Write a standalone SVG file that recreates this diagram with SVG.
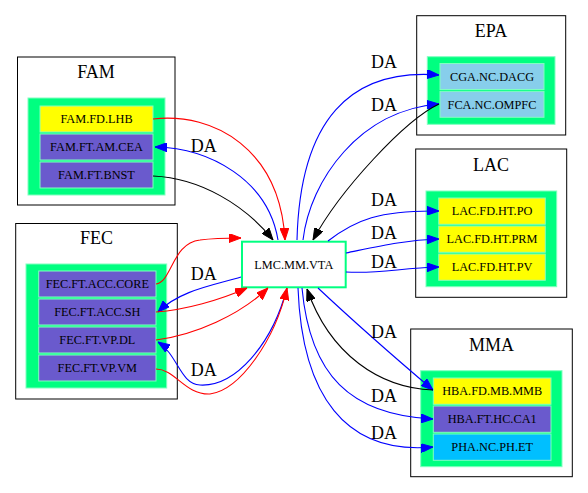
<svg xmlns="http://www.w3.org/2000/svg" width="588" height="493" viewBox="0 0 588 493">
<style>
.clu{fill:#fff;stroke:#000;stroke-width:1}
.tbl{fill:#00ff80;stroke:#80ffc0;stroke-width:1}
.cell{stroke:#80ffc0;stroke-width:1}
.y{fill:#ffff00}.s{fill:#6a5acd}.k{fill:#87ceeb}.d{fill:#00bfff}
.t{font-size:18px;fill:#000;text-anchor:middle}
.n{font-size:12.3px;fill:#000;text-anchor:middle}
.e{fill:none;stroke-width:1.1}
.r{stroke:#ff0000}.b{stroke:#0000ff}.bk{stroke:#000}
</style>
<defs>
<marker id="ar" viewBox="0 0 12 9" refX="12" refY="4.5" markerWidth="12" markerHeight="9" markerUnits="userSpaceOnUse" orient="auto"><path d="M0,0L12,4.5L0,9z" fill="#ff0000" stroke="#ff0000"/></marker>
<marker id="ab" viewBox="0 0 12 9" refX="12" refY="4.5" markerWidth="12" markerHeight="9" markerUnits="userSpaceOnUse" orient="auto"><path d="M0,0L12,4.5L0,9z" fill="#0000ff" stroke="#0000ff"/></marker>
<marker id="ak" viewBox="0 0 12 9" refX="12" refY="4.5" markerWidth="12" markerHeight="9" markerUnits="userSpaceOnUse" orient="auto"><path d="M0,0L12,4.5L0,9z" fill="#000" stroke="#000"/></marker>
</defs>
<rect width="588" height="493" fill="#fff"/>
<g font-family="Liberation Serif, Times New Roman, serif">

<g id="cluster_FAM">
<rect class="clu" x="17.5" y="57" width="157.5" height="148"/>
<text class="t" x="96" y="78.3">FAM</text>
<rect class="tbl" x="28" y="98" width="137" height="97"/>
<g id="FAM.FD.LHB"><rect class="cell y" x="40" y="106" width="113" height="26"/><text class="n" x="96.5" y="123.2">FAM.FD.LHB</text></g>
<g id="FAM.FT.AM.CEA"><rect class="cell s" x="40" y="134" width="113" height="26"/><text class="n" x="96.5" y="151.2">FAM.FT.AM.CEA</text></g>
<g id="FAM.FT.BNST"><rect class="cell s" x="40" y="162" width="113" height="26"/><text class="n" x="96.5" y="179.2">FAM.FT.BNST</text></g>
</g>

<g id="cluster_FEC">
<rect class="clu" x="15.7" y="223.5" width="161.6" height="175.5"/>
<text class="t" x="96.5" y="244">FEC</text>
<rect class="tbl" x="26" y="264" width="140.7" height="124"/>
<g id="FEC.FT.ACC.CORE"><rect class="cell s" x="38.7" y="271" width="117.3" height="26"/><text class="n" x="97.3" y="288.2">FEC.FT.ACC.CORE</text></g>
<g id="FEC.FT.ACC.SH"><rect class="cell s" x="38.7" y="299" width="117.3" height="26"/><text class="n" x="97.3" y="316.2">FEC.FT.ACC.SH</text></g>
<g id="FEC.FT.VP.DL"><rect class="cell s" x="38.7" y="327" width="117.3" height="26"/><text class="n" x="97.3" y="344.2">FEC.FT.VP.DL</text></g>
<g id="FEC.FT.VP.VM"><rect class="cell s" x="38.7" y="355" width="117.3" height="26"/><text class="n" x="97.3" y="372.2">FEC.FT.VP.VM</text></g>
</g>

<g id="cluster_EPA">
<rect class="clu" x="416.7" y="15.7" width="149" height="119.3"/>
<text class="t" x="491" y="36.7">EPA</text>
<rect class="tbl" x="427.3" y="56.7" width="127.7" height="67.6"/>
<g id="CGA.NC.DACG"><rect class="cell k" x="440" y="63.5" width="104" height="26"/><text class="n" x="492" y="80.7">CGA.NC.DACG</text></g>
<g id="FCA.NC.OMPFC"><rect class="cell k" x="440" y="91.3" width="104" height="26"/><text class="n" x="492" y="108.5">FCA.NC.OMPFC</text></g>
</g>

<g id="cluster_LAC">
<rect class="clu" x="415.7" y="149" width="151" height="148.3"/>
<text class="t" x="491" y="170.7">LAC</text>
<rect class="tbl" x="426" y="191" width="130.7" height="95.7"/>
<g id="LAC.FD.HT.PO"><rect class="cell y" x="438.7" y="198" width="106.6" height="26.3"/><text class="n" x="492" y="215.3">LAC.FD.HT.PO</text></g>
<g id="LAC.FD.HT.PRM"><rect class="cell y" x="438.7" y="226" width="106.6" height="26.3"/><text class="n" x="492" y="243.3">LAC.FD.HT.PRM</text></g>
<g id="LAC.FD.HT.PV"><rect class="cell y" x="438.7" y="254" width="106.6" height="26.3"/><text class="n" x="492" y="271.3">LAC.FD.HT.PV</text></g>
</g>

<g id="cluster_MMA">
<rect class="clu" x="410.7" y="329" width="161.6" height="147.7"/>
<text class="t" x="491.5" y="350.7">MMA</text>
<rect class="tbl" x="420.7" y="370.7" width="141.3" height="96"/>
<g id="HBA.FD.MB.MMB"><rect class="cell y" x="433.3" y="378" width="117.7" height="26.3"/><text class="n" x="492.2" y="395.3">HBA.FD.MB.MMB</text></g>
<g id="HBA.FT.HC.CA1"><rect class="cell s" x="433.3" y="406" width="117.7" height="26.3"/><text class="n" x="492.2" y="423.3">HBA.FT.HC.CA1</text></g>
<g id="PHA.NC.PH.ET"><rect class="cell d" x="433.3" y="434" width="117.7" height="26.3"/><text class="n" x="492.2" y="451.3">PHA.NC.PH.ET</text></g>
</g>

<g id="LMC.MM.VTA">
<rect x="242" y="241.7" width="103.7" height="45.6" fill="#fff" stroke="#00ff80" stroke-width="2"/>
<text class="n" x="293.8" y="268.6">LMC.MM.VTA</text>
</g>

<g id="edges">
<path class="e r" marker-end="url(#ar)" d="M153,119 C215,112 280,150 285,240"/>
<path class="e b" marker-end="url(#ab)" d="M278,240 C268,180 210,148 155,147"/>
<path class="e bk" marker-end="url(#ak)" d="M153,176 C200,178 245,205 273,240"/>
<path class="e b" marker-end="url(#ab)" d="M297,240 C300,120 350,68 439,75"/>
<path class="e b" marker-end="url(#ab)" d="M303,240 C310,180 360,110 439,104"/>
<path class="e bk" marker-end="url(#ak)" d="M439,104 C405,120 340,190 313,240"/>
<path class="e b" marker-end="url(#ab)" d="M328,241 C355,220 380,210 438.7,211"/>
<path class="e b" marker-end="url(#ab)" d="M346,253 C380,246 405,240 438.7,239"/>
<path class="e b" marker-end="url(#ab)" d="M346,272 C380,274 400,268 438.7,267"/>
<path class="e r" marker-end="url(#ar)" d="M156,284 C172,282 172,243 200,240 C215,238 228,238 241,238"/>
<path class="e b" marker-end="url(#ab)" d="M241,277 C215,285 180,290 158,312"/>
<path class="e r" marker-end="url(#ar)" d="M156,312 C185,310 220,300 247,288"/>
<path class="e r" marker-end="url(#ar)" d="M156,340 C195,335 240,315 268,288"/>
<path class="e b" marker-end="url(#ab)" d="M287,288 C272,345 235,387 200,385 C180,384 178,355 158,342"/>
<path class="e r" marker-end="url(#ar)" d="M156,369 C175,369 185,395 210,394 C240,390 275,340 287,288"/>
<path class="e b" marker-end="url(#ab)" d="M318,288 C350,318 400,362 433,390"/>
<path class="e bk" marker-end="url(#ak)" d="M433,390 C380,388 330,355 307,289"/>
<path class="e b" marker-end="url(#ab)" d="M302,288 C310,375 350,415 433,419"/>
<path class="e b" marker-end="url(#ab)" d="M298,288 C302,395 345,455 433,447"/>
<g class="t">
<text x="203.7" y="151.7">DA</text>
<text x="203.7" y="280">DA</text>
<text x="203.7" y="376">DA</text>
<text x="384" y="68.3">DA</text>
<text x="384" y="111">DA</text>
<text x="384" y="206">DA</text>
<text x="384" y="239.3">DA</text>
<text x="384" y="267.7">DA</text>
<text x="384" y="338.3">DA</text>
<text x="384" y="402.3">DA</text>
<text x="384" y="439.3">DA</text>
</g>
</g>
</g>
</svg>
